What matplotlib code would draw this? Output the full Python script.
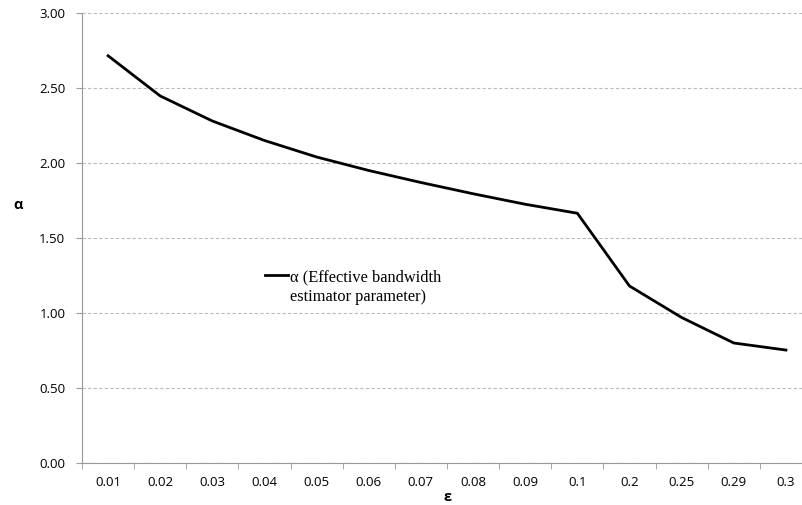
import numpy as np
import matplotlib.pyplot as plt

# data
eps_labels = ["0.01", "0.02", "0.03", "0.04", "0.05", "0.06", "0.07",
              "0.08", "0.09", "0.1", "0.2", "0.25", "0.29", "0.3"]
alpha_vals = [2.715, 2.447, 2.28, 2.15, 2.04, 1.95, 1.87,
              1.795, 1.725, 1.665, 1.18, 0.97, 0.80, 0.753]

plt.rcParams.update({
    "font.family": ["Open Sans", "DejaVu Sans"],
})

fig = plt.figure(figsize=(8.02, 5.05), dpi=100)
ax = fig.add_axes([82 / 802, 42 / 505, 730 / 802, 450 / 505])

x = np.arange(len(eps_labels))
ax.plot(x, alpha_vals, color="black", lw=2.0,
        label="α (Effective bandwidth", zorder=3)

ax.set_xlim(-0.5, len(eps_labels) - 0.5)
ax.set_ylim(0, 3.0)
ax.set_yticks(np.arange(0, 3.01, 0.5))
ax.set_yticklabels([f"{v:.2f}" for v in np.arange(0, 3.01, 0.5)], fontsize=9.5)
ax.set_xticks(x)
ax.set_xticklabels(eps_labels, fontsize=9.5)
ax.set_xticks(np.arange(-0.5, len(eps_labels), 1.0), minor=True)
ax.tick_params(axis="x", which="major", length=0, pad=9)
ax.tick_params(axis="x", which="minor", length=4, color="#999999", direction="out")
ax.tick_params(axis="y", length=4, color="#999999", direction="out", pad=8)

ax.grid(axis="y", color="#bbbbbb", ls=(0, (3, 2)), lw=0.8)
ax.set_axisbelow(True)
for s in ["top", "right"]:
    ax.spines[s].set_visible(False)
for s in ["left", "bottom"]:
    ax.spines[s].set_color("#999999")

ax.set_xlabel("ε", fontsize=10.5, fontweight="bold")
ax.set_ylabel("α", fontsize=10.5, fontweight="bold", rotation=0, va="center", ha="center")
ax.xaxis.set_label_coords((447 - 82) / 730, -0.06)
ax.yaxis.set_label_coords((18 - 82) / 730, (463 - 205) / 450)

# legend: first line with the handle, second line of the label underneath
leg = ax.legend(loc="center left", bbox_to_anchor=((250 - 82) / 730, (463 - 277) / 450),
                frameon=False, handlelength=1.4, handletextpad=0.15,
                prop={"family": "Liberation Serif", "size": 11.8})
fig.text(290 / 802, 1 - 297 / 505, "estimator parameter)", va="center", ha="left",
         family="Liberation Serif", fontsize=11.8)

plt.savefig("out.png", dpi=100)
